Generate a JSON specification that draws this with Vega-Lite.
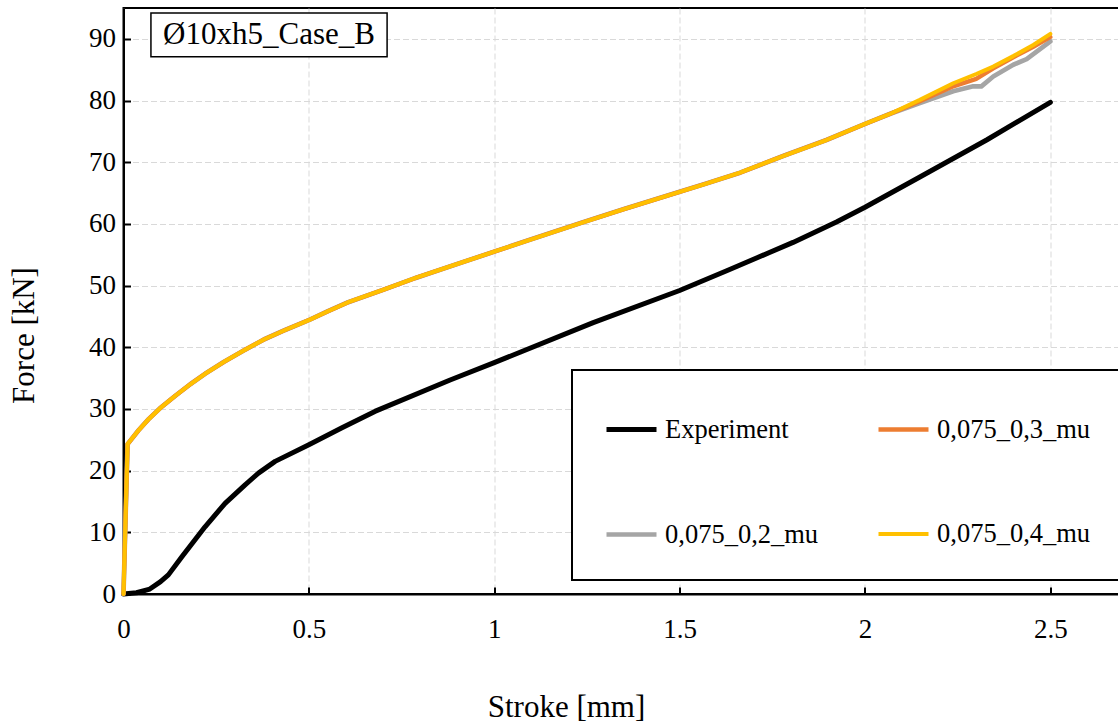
{
  "$schema": "https://vega.github.io/schema/vega-lite/v6.json",
  "width": 1001,
  "height": 586,
  "autosize": {"type": "none"},
  "padding": {"left": 123.5, "top": 8, "right": 0, "bottom": 132},
  "background": "white",
  "config": {
    "font": "Liberation Serif",
    "view": {"stroke": "black", "strokeWidth": 2},
    "axis": {
      "domainColor": "black",
      "domainWidth": 2,
      "tickColor": "black",
      "tickWidth": 2,
      "tickSize": -7,
      "gridColor": "#d9d9d9",
      "gridDash": [6, 3],
      "gridWidth": 1,
      "labelColor": "black",
      "labelFontSize": 27,
      "labelFont": "Liberation Serif",
      "titleColor": "black",
      "titleFontSize": 31,
      "titleFont": "Liberation Serif",
      "titleFontWeight": "normal"
    }
  },
  "datasets": {
    "curves": [
      {"series": "Experiment", "stroke": 0, "force": 0},
      {"series": "Experiment", "stroke": 0.035, "force": 0.2},
      {"series": "Experiment", "stroke": 0.071, "force": 0.8},
      {"series": "Experiment", "stroke": 0.1, "force": 2.0},
      {"series": "Experiment", "stroke": 0.121, "force": 3.1},
      {"series": "Experiment", "stroke": 0.157, "force": 6.0},
      {"series": "Experiment", "stroke": 0.22, "force": 10.9},
      {"series": "Experiment", "stroke": 0.274, "force": 14.7},
      {"series": "Experiment", "stroke": 0.328, "force": 17.7},
      {"series": "Experiment", "stroke": 0.364, "force": 19.6},
      {"series": "Experiment", "stroke": 0.409, "force": 21.5},
      {"series": "Experiment", "stroke": 0.5, "force": 24.2},
      {"series": "Experiment", "stroke": 0.588, "force": 26.9},
      {"series": "Experiment", "stroke": 0.678, "force": 29.6},
      {"series": "Experiment", "stroke": 0.881, "force": 34.7},
      {"series": "Experiment", "stroke": 1.0, "force": 37.5},
      {"series": "Experiment", "stroke": 1.267, "force": 44.0},
      {"series": "Experiment", "stroke": 1.5, "force": 49.2},
      {"series": "Experiment", "stroke": 1.627, "force": 52.4},
      {"series": "Experiment", "stroke": 1.806, "force": 57.0},
      {"series": "Experiment", "stroke": 1.923, "force": 60.3},
      {"series": "Experiment", "stroke": 2.0, "force": 62.7},
      {"series": "Experiment", "stroke": 2.148, "force": 67.6},
      {"series": "Experiment", "stroke": 2.328, "force": 73.6},
      {"series": "Experiment", "stroke": 2.5, "force": 79.7},

      {"series": "0,075_0,2_mu", "stroke": 0, "force": 0},
      {"series": "0,075_0,2_mu", "stroke": 0.011, "force": 24.3},
      {"series": "0,075_0,2_mu", "stroke": 0.04, "force": 26.5},
      {"series": "0,075_0,2_mu", "stroke": 0.067, "force": 28.3},
      {"series": "0,075_0,2_mu", "stroke": 0.1, "force": 30.2},
      {"series": "0,075_0,2_mu", "stroke": 0.139, "force": 32.1},
      {"series": "0,075_0,2_mu", "stroke": 0.18, "force": 34.0},
      {"series": "0,075_0,2_mu", "stroke": 0.22, "force": 35.7},
      {"series": "0,075_0,2_mu", "stroke": 0.27, "force": 37.6},
      {"series": "0,075_0,2_mu", "stroke": 0.328, "force": 39.6},
      {"series": "0,075_0,2_mu", "stroke": 0.38, "force": 41.3},
      {"series": "0,075_0,2_mu", "stroke": 0.436, "force": 42.8},
      {"series": "0,075_0,2_mu", "stroke": 0.5, "force": 44.4},
      {"series": "0,075_0,2_mu", "stroke": 0.55, "force": 45.8},
      {"series": "0,075_0,2_mu", "stroke": 0.606, "force": 47.3},
      {"series": "0,075_0,2_mu", "stroke": 0.7, "force": 49.3},
      {"series": "0,075_0,2_mu", "stroke": 0.786, "force": 51.2},
      {"series": "0,075_0,2_mu", "stroke": 0.9, "force": 53.5},
      {"series": "0,075_0,2_mu", "stroke": 1.0, "force": 55.5},
      {"series": "0,075_0,2_mu", "stroke": 1.1, "force": 57.5},
      {"series": "0,075_0,2_mu", "stroke": 1.231, "force": 60.1},
      {"series": "0,075_0,2_mu", "stroke": 1.35, "force": 62.4},
      {"series": "0,075_0,2_mu", "stroke": 1.5, "force": 65.2},
      {"series": "0,075_0,2_mu", "stroke": 1.57, "force": 66.5},
      {"series": "0,075_0,2_mu", "stroke": 1.663, "force": 68.3},
      {"series": "0,075_0,2_mu", "stroke": 1.779, "force": 71.0},
      {"series": "0,075_0,2_mu", "stroke": 1.896, "force": 73.6},
      {"series": "0,075_0,2_mu", "stroke": 2.0, "force": 76.2},
      {"series": "0,075_0,2_mu", "stroke": 2.07, "force": 77.9},
      {"series": "0,075_0,2_mu", "stroke": 2.148, "force": 79.6},
      {"series": "0,075_0,2_mu", "stroke": 2.238, "force": 81.5},
      {"series": "0,075_0,2_mu", "stroke": 2.292, "force": 82.3},
      {"series": "0,075_0,2_mu", "stroke": 2.314, "force": 82.3},
      {"series": "0,075_0,2_mu", "stroke": 2.346, "force": 83.9},
      {"series": "0,075_0,2_mu", "stroke": 2.4, "force": 85.8},
      {"series": "0,075_0,2_mu", "stroke": 2.436, "force": 86.7},
      {"series": "0,075_0,2_mu", "stroke": 2.5, "force": 89.6},

      {"series": "0,075_0,3_mu", "stroke": 0, "force": 0},
      {"series": "0,075_0,3_mu", "stroke": 0.011, "force": 24.3},
      {"series": "0,075_0,3_mu", "stroke": 0.04, "force": 26.5},
      {"series": "0,075_0,3_mu", "stroke": 0.067, "force": 28.3},
      {"series": "0,075_0,3_mu", "stroke": 0.1, "force": 30.2},
      {"series": "0,075_0,3_mu", "stroke": 0.139, "force": 32.1},
      {"series": "0,075_0,3_mu", "stroke": 0.18, "force": 34.0},
      {"series": "0,075_0,3_mu", "stroke": 0.22, "force": 35.7},
      {"series": "0,075_0,3_mu", "stroke": 0.27, "force": 37.6},
      {"series": "0,075_0,3_mu", "stroke": 0.328, "force": 39.6},
      {"series": "0,075_0,3_mu", "stroke": 0.38, "force": 41.3},
      {"series": "0,075_0,3_mu", "stroke": 0.436, "force": 42.8},
      {"series": "0,075_0,3_mu", "stroke": 0.5, "force": 44.4},
      {"series": "0,075_0,3_mu", "stroke": 0.55, "force": 45.8},
      {"series": "0,075_0,3_mu", "stroke": 0.606, "force": 47.3},
      {"series": "0,075_0,3_mu", "stroke": 0.7, "force": 49.3},
      {"series": "0,075_0,3_mu", "stroke": 0.786, "force": 51.2},
      {"series": "0,075_0,3_mu", "stroke": 0.9, "force": 53.5},
      {"series": "0,075_0,3_mu", "stroke": 1.0, "force": 55.5},
      {"series": "0,075_0,3_mu", "stroke": 1.1, "force": 57.5},
      {"series": "0,075_0,3_mu", "stroke": 1.231, "force": 60.1},
      {"series": "0,075_0,3_mu", "stroke": 1.35, "force": 62.4},
      {"series": "0,075_0,3_mu", "stroke": 1.5, "force": 65.2},
      {"series": "0,075_0,3_mu", "stroke": 1.57, "force": 66.5},
      {"series": "0,075_0,3_mu", "stroke": 1.663, "force": 68.3},
      {"series": "0,075_0,3_mu", "stroke": 1.779, "force": 71.0},
      {"series": "0,075_0,3_mu", "stroke": 1.896, "force": 73.6},
      {"series": "0,075_0,3_mu", "stroke": 2.0, "force": 76.2},
      {"series": "0,075_0,3_mu", "stroke": 2.07, "force": 77.9},
      {"series": "0,075_0,3_mu", "stroke": 2.148, "force": 79.9},
      {"series": "0,075_0,3_mu", "stroke": 2.238, "force": 82.3},
      {"series": "0,075_0,3_mu", "stroke": 2.3, "force": 83.5},
      {"series": "0,075_0,3_mu", "stroke": 2.346, "force": 85.2},
      {"series": "0,075_0,3_mu", "stroke": 2.4, "force": 87.0},
      {"series": "0,075_0,3_mu", "stroke": 2.454, "force": 88.7},
      {"series": "0,075_0,3_mu", "stroke": 2.5, "force": 90.3},

      {"series": "0,075_0,4_mu", "stroke": 0, "force": 0},
      {"series": "0,075_0,4_mu", "stroke": 0.011, "force": 24.3},
      {"series": "0,075_0,4_mu", "stroke": 0.04, "force": 26.5},
      {"series": "0,075_0,4_mu", "stroke": 0.067, "force": 28.3},
      {"series": "0,075_0,4_mu", "stroke": 0.1, "force": 30.2},
      {"series": "0,075_0,4_mu", "stroke": 0.139, "force": 32.1},
      {"series": "0,075_0,4_mu", "stroke": 0.18, "force": 34.0},
      {"series": "0,075_0,4_mu", "stroke": 0.22, "force": 35.7},
      {"series": "0,075_0,4_mu", "stroke": 0.27, "force": 37.6},
      {"series": "0,075_0,4_mu", "stroke": 0.328, "force": 39.6},
      {"series": "0,075_0,4_mu", "stroke": 0.38, "force": 41.3},
      {"series": "0,075_0,4_mu", "stroke": 0.436, "force": 42.8},
      {"series": "0,075_0,4_mu", "stroke": 0.5, "force": 44.4},
      {"series": "0,075_0,4_mu", "stroke": 0.55, "force": 45.8},
      {"series": "0,075_0,4_mu", "stroke": 0.606, "force": 47.3},
      {"series": "0,075_0,4_mu", "stroke": 0.7, "force": 49.3},
      {"series": "0,075_0,4_mu", "stroke": 0.786, "force": 51.2},
      {"series": "0,075_0,4_mu", "stroke": 0.9, "force": 53.5},
      {"series": "0,075_0,4_mu", "stroke": 1.0, "force": 55.5},
      {"series": "0,075_0,4_mu", "stroke": 1.1, "force": 57.5},
      {"series": "0,075_0,4_mu", "stroke": 1.231, "force": 60.1},
      {"series": "0,075_0,4_mu", "stroke": 1.35, "force": 62.4},
      {"series": "0,075_0,4_mu", "stroke": 1.5, "force": 65.2},
      {"series": "0,075_0,4_mu", "stroke": 1.57, "force": 66.5},
      {"series": "0,075_0,4_mu", "stroke": 1.663, "force": 68.3},
      {"series": "0,075_0,4_mu", "stroke": 1.779, "force": 71.0},
      {"series": "0,075_0,4_mu", "stroke": 1.896, "force": 73.6},
      {"series": "0,075_0,4_mu", "stroke": 2.0, "force": 76.2},
      {"series": "0,075_0,4_mu", "stroke": 2.07, "force": 77.9},
      {"series": "0,075_0,4_mu", "stroke": 2.148, "force": 80.1},
      {"series": "0,075_0,4_mu", "stroke": 2.238, "force": 82.8},
      {"series": "0,075_0,4_mu", "stroke": 2.3, "force": 84.3},
      {"series": "0,075_0,4_mu", "stroke": 2.346, "force": 85.5},
      {"series": "0,075_0,4_mu", "stroke": 2.4, "force": 87.2},
      {"series": "0,075_0,4_mu", "stroke": 2.454, "force": 89.0},
      {"series": "0,075_0,4_mu", "stroke": 2.5, "force": 90.8}
    ],
    "label": [{"name": "Ø10xh5_Case_B"}]
  },
  "layer": [
    {
      "data": {"name": "curves"},
      "mark": {"type": "line", "strokeJoin": "round", "strokeCap": "round"},
      "encoding": {
        "x": {
          "field": "stroke", "type": "quantitative",
          "scale": {"domain": [0, 2.7], "nice": false},
          "axis": {
            "title": "Stroke [mm]",
            "values": [0, 0.5, 1, 1.5, 2, 2.5],
            "format": ".1~f",
            "labelPadding": 29,
            "labelFlush": false,
            "titleX": 442.5,
            "titleY": 122,
            "titleBaseline": "alphabetic",
            "titleAnchor": null
          }
        },
        "y": {
          "field": "force", "type": "quantitative",
          "scale": {"domain": [0, 95], "nice": false},
          "axis": {
            "title": "Force [kN]",
            "values": [0, 10, 20, 30, 40, 50, 60, 70, 80, 90],
            "labelPadding": 15,
            "labelFlush": false,
            "titleX": -90.5,
            "titleY": 327,
            "titleBaseline": "alphabetic",
            "titleAngle": -90,
            "titleAlign": "center"
          }
        },
        "color": {
          "field": "series", "type": "nominal",
          "scale": {
            "domain": ["Experiment", "0,075_0,2_mu", "0,075_0,3_mu", "0,075_0,4_mu"],
            "range": ["#000000", "#A5A5A5", "#ED7D31", "#FFC000"]
          },
          "legend": {
            "title": null,
            "orient": "none",
            "legendX": 448.5,
            "legendY": 362,
            "columns": 2,
            "symbolType": "stroke",
            "symbolSize": 2500,
            "labelFontSize": 26.5,
            "labelFont": "Liberation Serif",
            "labelColor": "black",
            "labelOffset": 6,
            "labelLimit": 400,
            "padding": 32,
            "rowPadding": 64,
            "columnPadding": 50,
            "strokeColor": "black",
            "fillColor": "white",
            "symbolOpacity": 1,
            "encode": {"legend": {"update": {"strokeWidth": {"value": 2}}}}
          }
        },
        "strokeWidth": {
          "field": "series", "type": "nominal",
          "scale": {
            "domain": ["Experiment", "0,075_0,2_mu", "0,075_0,3_mu", "0,075_0,4_mu"],
            "range": [5, 4, 4, 4]
          },
          "legend": {
            "title": null,
            "orient": "none",
            "legendX": 448.5,
            "legendY": 362,
            "columns": 2,
            "symbolType": "stroke",
            "symbolSize": 2500,
            "labelFontSize": 26.5,
            "labelFont": "Liberation Serif",
            "labelColor": "black",
            "labelOffset": 6,
            "labelLimit": 400,
            "padding": 32,
            "rowPadding": 64,
            "columnPadding": 50,
            "strokeColor": "black",
            "fillColor": "white",
            "symbolOpacity": 1,
            "encode": {"legend": {"update": {"strokeWidth": {"value": 2}}}}
          }
        }
      }
    },
    {
      "data": {"name": "label"},
      "mark": {"type": "rect", "fill": "white", "stroke": "black", "strokeWidth": 1.5},
      "encoding": {
        "x": {"datum": 0.074},
        "x2": {"datum": 0.711},
        "y": {"datum": 94.2},
        "y2": {"datum": 87.1}
      }
    },
    {
      "data": {"name": "label"},
      "mark": {"type": "text", "fontSize": 31, "font": "Liberation Serif", "color": "black", "align": "center", "baseline": "middle"},
      "encoding": {
        "x": {"datum": 0.3925},
        "y": {"datum": 90.65},
        "text": {"field": "name", "type": "nominal"}
      }
    }
  ]
}
